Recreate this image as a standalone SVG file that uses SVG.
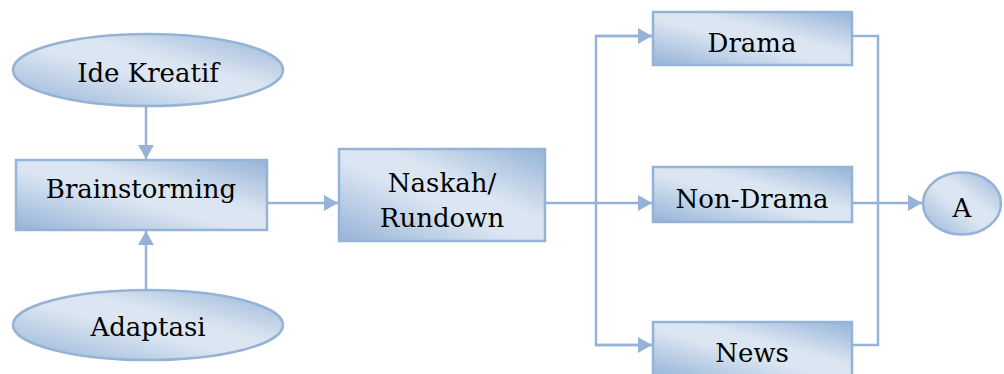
<svg xmlns="http://www.w3.org/2000/svg" width="1004" height="374" viewBox="0 0 1004 374">
<defs>
<linearGradient id="g" x1="0" y1="1" x2="1" y2="0">
<stop offset="0" stop-color="#95b3d7"/>
<stop offset="0.45" stop-color="#dce6f2"/>
<stop offset="0.6" stop-color="#dce6f2"/>
<stop offset="1" stop-color="#95b3d7"/>
</linearGradient>
<marker id="ah" viewBox="0 0 14 16" refX="14" refY="8" markerWidth="14" markerHeight="16" markerUnits="userSpaceOnUse" orient="auto">
<path d="M0,0 L14,8 L0,16 Z" fill="#95b3d7"/>
</marker>
<style>
.n{fill:url(#g);stroke:#95b3d7;stroke-width:2.5}
.t{font-family:"DejaVu Serif",serif;font-size:26px;fill:#000;text-anchor:middle}
.c{fill:none;stroke:#95b3d7;stroke-width:2.5}
</style>
</defs>
<g id="connectors">
<path class="c" d="M146,107 V159" marker-end="url(#ah)"/>
<path class="c" d="M146,289 V231" marker-end="url(#ah)"/>
<path class="c" d="M268,203 H338" marker-end="url(#ah)"/>
<path class="c" d="M546,203 H652" marker-end="url(#ah)"/>
<path class="c" d="M652,36 H596 V345 H652"/>
<path class="c" d="M596,36 H652" marker-end="url(#ah)"/>
<path class="c" d="M596,345 H652" marker-end="url(#ah)"/>
<path class="c" d="M853,36 H878 V345 H853"/>
<path class="c" d="M853,203 H922" marker-end="url(#ah)"/>
</g>
<g id="ide-kreatif">
<ellipse class="n" cx="148" cy="70" rx="135" ry="36"/>
<text class="t" x="148" y="82">Ide Kreatif</text>
</g>
<g id="brainstorming">
<rect class="n" x="16" y="160" width="251" height="70"/>
<text class="t" x="141" y="198">Brainstorming</text>
</g>
<g id="adaptasi">
<ellipse class="n" cx="148" cy="325" rx="135" ry="35"/>
<text class="t" x="148" y="336">Adaptasi</text>
</g>
<g id="naskah">
<rect class="n" x="339" y="149" width="206" height="92"/>
<text class="t" x="442" y="192">Naskah/</text>
<text class="t" x="442" y="227">Rundown</text>
</g>
<g id="drama">
<rect class="n" x="653" y="12" width="199" height="53"/>
<text class="t" x="752" y="52">Drama</text>
</g>
<g id="non-drama">
<rect class="n" x="653" y="167" width="199" height="55"/>
<text class="t" x="752" y="208">Non-Drama</text>
</g>
<g id="news">
<rect class="n" x="653" y="322" width="199" height="56"/>
<text class="t" x="752" y="362">News</text>
</g>
<g id="a">
<ellipse class="n" cx="962" cy="203.5" rx="39" ry="31"/>
<text class="t" x="962" y="217">A</text>
</g>
</svg>
